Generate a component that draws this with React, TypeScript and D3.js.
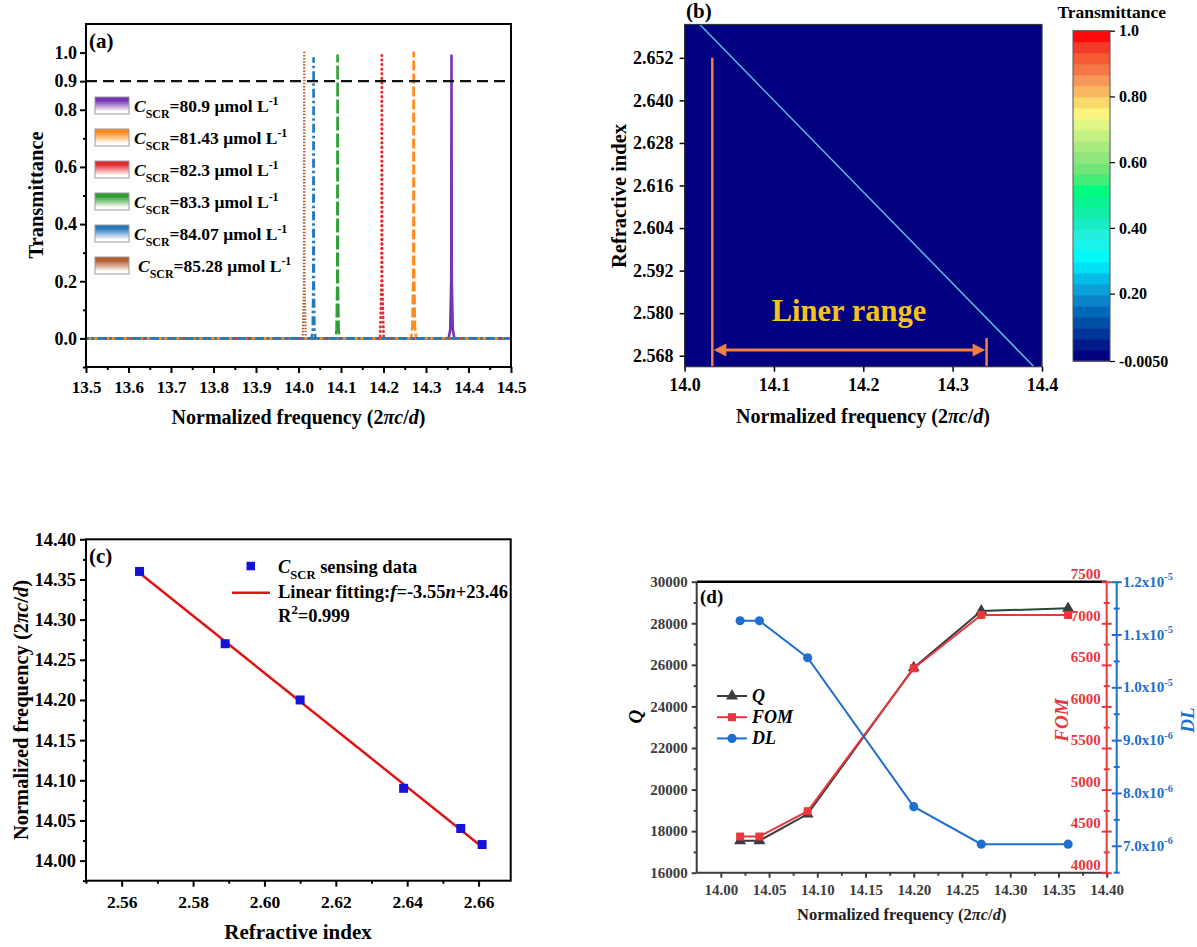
import React, { useEffect, useRef } from "react";
import * as d3 from "d3";

const W = 1197, H = 947;
const SERIF = "'Liberation Serif','Times New Roman',Times,serif";

// ---------- (a) transmission spectra ----------
const concLabels = ["80.9", "81.43", "82.3", "83.3", "84.07", "85.28"];
const specColors = ["#7434b4", "#ff8b1f", "#e32a2e", "#2fa033", "#2379bf", "#b35b2e"];
const specDash = ["none", "10,3", "2.2,2.8", "14,3", "9,3,2.5,3", "1.5,1.6"];
// [normalized frequency, transmittance]
const spec80_9 = [[13.5, 0], [14.353, 0], [14.357, 0.03], [14.3593, 0.2], [14.36, 0.99], [14.3607, 0.2], [14.363, 0.03], [14.367, 0], [14.5, 0]];
const spec81_43 = [[13.5, 0], [14.265, 0], [14.268, 0.04], [14.2703, 0.25], [14.271, 1.0], [14.2717, 0.25], [14.274, 0.04], [14.277, 0], [14.5, 0]];
const spec82_3 = [[13.5, 0], [14.192, 0], [14.1955, 0.2], [14.1962, 0.99], [14.1969, 0.2], [14.2004, 0], [14.5, 0]];
const spec83_3 = [[13.5, 0], [14.087, 0], [14.0895, 0.03], [14.0913, 0.2], [14.092, 0.99], [14.0927, 0.2], [14.0945, 0.03], [14.097, 0], [14.5, 0]];
const spec84_07 = [[13.5, 0], [14.031, 0], [14.0335, 0.03], [14.0348, 0.2], [14.0355, 0.98], [14.0362, 0.2], [14.0375, 0.03], [14.04, 0], [14.5, 0]];
const spec85_28 = [[13.5, 0], [14.0100, 0], [14.0128, 0.2], [14.0135, 1.0], [14.0142, 0.2], [14.017, 0], [14.5, 0]];
const spectra = [spec80_9, spec81_43, spec82_3, spec83_3, spec84_07, spec85_28];
const thresholdT = 0.9;
const xTicksA = [13.5, 13.6, 13.7, 13.8, 13.9, 14.0, 14.1, 14.2, 14.3, 14.4, 14.5];
const xMinorA = [13.55, 13.65, 13.75, 13.85, 13.95, 14.05, 14.15, 14.25, 14.35, 14.45];
const yTicksA = [0, 0.2, 0.4, 0.6, 0.8, 0.9, 1.0];
const yMinorA = [-0.1, 0.1, 0.3, 0.5, 0.7];

// ---------- (b) transmittance map ----------
const ridgeFreq = [14.017, 14.391];
const ridgeIndex = [2.6614, 2.5649];
const xTicksB = [14.0, 14.1, 14.2, 14.3, 14.4];
const yTicksB = [2.568, 2.58, 2.592, 2.604, 2.616, 2.628, 2.64, 2.652];
const rangeStartF = 14.031, rangeEndF = 14.338;
const cbTicks = [-0.005, 0.2, 0.4, 0.6, 0.8, 1.0];
const cbTickLabels = ["-0.0050", "0.20", "0.40", "0.60", "0.80", "1.0"];
const cbColors = ["#000080", "#001a8a", "#003499", "#004fa9", "#0068b8", "#0a84c8", "#0aa0d8", "#00bce6", "#00e0f4", "#00fafa",
  "#18f4ec", "#24eedc", "#18ecc4", "#10eea8", "#08f490", "#00fa80", "#40ee78", "#70e678", "#90e67c", "#a8ea80",
  "#c4f084", "#e0f684", "#f8f47c", "#fad86c", "#fab862", "#f89858", "#f67848", "#f45a34", "#f43a28", "#ff0a0a"];

// ---------- (c) sensing data ----------
const nC = [2.565, 2.589, 2.61, 2.639, 2.655, 2.661];
const fC = [14.36, 14.27, 14.2, 14.09, 14.04, 14.02];
const fitN = [2.565, 2.661];
const fitF = [14.358, 14.017];
const xTicksC = [2.56, 2.58, 2.6, 2.62, 2.64, 2.66];
const xMinorC = [2.55, 2.57, 2.59, 2.61, 2.63, 2.65];
const yTicksC = [14.0, 14.05, 14.1, 14.15, 14.2, 14.25, 14.3, 14.35, 14.4];
const yMinorC = [13.975, 14.025, 14.075, 14.125, 14.175, 14.225, 14.275, 14.325, 14.375];

// ---------- (d) Q / FOM / DL ----------
const freqD = [14.02, 14.04, 14.09, 14.2, 14.27, 14.36];
const qVals = [17540, 17540, 18820, 25860, 28590, 28720];
const fomVals = [4435, 4435, 4740, 6458, 7100, 7100];
const dlVals = [1.126e-5, 1.126e-5, 1.056e-5, 7.74e-6, 7.03e-6, 7.03e-6];
const xTicksD = [14.0, 14.05, 14.1, 14.15, 14.2, 14.25, 14.3, 14.35, 14.4];
const xMinorD = [14.025, 14.075, 14.125, 14.175, 14.225, 14.275, 14.325, 14.375];
const qTicks = [16000, 18000, 20000, 22000, 24000, 26000, 28000, 30000];
const qMinor = [17000, 19000, 21000, 23000, 25000, 27000, 29000];
const fomTicks = [4000, 4500, 5000, 5500, 6000, 6500, 7000, 7500];
const fomMinor = [4250, 4750, 5250, 5750, 6250, 6750, 7250];
const dlTicks = [7e-6, 8e-6, 9e-6, 1e-5, 1.1e-5, 1.2e-5];
const dlTickLabels = [["7.0x10", "-6"], ["8.0x10", "-6"], ["9.0x10", "-6"], ["1.0x10", "-5"], ["1.1x10", "-5"], ["1.2x10", "-5"]];
const dlMinor = [6.5e-6, 7.5e-6, 8.5e-6, 9.5e-6, 1.05e-5, 1.15e-5];

const freqTitle: any[] = [["Normalized frequency (2"], ["πc", "i"], ["/"], ["d", "i"], [")"]];
const cscr = (v: string): any[] => [["C", "i"], ["SCR", "sub"], ["=" + v + " μmol L"], ["-1", "sup"]];

function rich(t: any, parts: any[], size: number) {
  let shift = 0;
  parts.forEach(([s, k]: any) => {
    const span = t.append("tspan").text(s);
    let target = 0;
    if (k === "sub") target = size * 0.32;
    if (k === "sup") target = -size * 0.42;
    if (target - shift !== 0) span.attr("dy", target - shift);
    shift = target;
    if (k === "sub" || k === "sup") span.attr("font-size", size * 0.68);
    if (k === "i") span.attr("font-style", "italic");
  });
  return t;
}

function label(g: any, x: number, y: number, parts: any[], size: number, opts: any = {}) {
  const t = g.append("text")
    .attr("font-family", SERIF).attr("font-weight", "bold").attr("font-size", size)
    .attr("fill", opts.fill || "#000").attr("text-anchor", opts.anchor || "start");
  if (opts.rotate) t.attr("transform", `translate(${x},${y}) rotate(-90)`).attr("dy", "0.35em");
  else t.attr("x", x).attr("y", y);
  return rich(t, parts, size);
}

function styleAxis(sel: any, size: number, color: string, width = 2) {
  sel.attr("font-family", SERIF).attr("font-size", size).attr("font-weight", "bold");
  sel.select(".domain").remove();
  sel.selectAll("line").attr("stroke", color).attr("stroke-width", width);
  sel.selectAll("text").attr("fill", color);
  return sel;
}

function drawA(svg: any) {
  const g = svg.append("g");
  const x = d3.scaleLinear().domain([13.5, 14.5]).range([86, 511]);
  const y = d3.scaleLinear().domain([-0.1, 1.1]).range([367, 24]);
  const defs = svg.append("defs");
  specColors.forEach((c, i) => {
    const lg = defs.append("linearGradient").attr("id", "swA" + i).attr("x1", 0).attr("y1", 0).attr("x2", 0).attr("y2", 1);
    lg.append("stop").attr("offset", 0).attr("stop-color", c);
    lg.append("stop").attr("offset", 0.2).attr("stop-color", c);
    lg.append("stop").attr("offset", 0.85).attr("stop-color", "#fff");
  });
  defs.append("clipPath").attr("id", "clipA").append("rect").attr("x", 86).attr("y", 24).attr("width", 425).attr("height", 343);

  const line = d3.line().x((d: any) => x(d[0])).y((d: any) => y(d[1]));
  const plot = g.append("g").attr("clip-path", "url(#clipA)");
  const order = [0, 3, 5, 2, 1, 4];
  order.forEach((i) => {
    const pts = spectra[i];
    let pk = 0;
    pts.forEach((p, j) => { if (p[1] > pts[pk][1]) pk = j; });
    const path = plot.append("path").attr("d", line(pts as any)).attr("fill", "none")
      .attr("stroke", specColors[i]).attr("stroke-width", 2.6).attr("stroke-linejoin", "round");
    if (specDash[i] !== "none") {
      const tmp = plot.append("path").attr("d", line(pts.slice(0, pk + 1) as any));
      const l1 = (tmp.node() as any).getTotalLength();
      tmp.remove();
      const d0 = +specDash[i].split(",")[0];
      path.attr("stroke-dasharray", specDash[i]).attr("stroke-dashoffset", d0 / 2 - l1);
      if (i === 2) path.attr("stroke-linecap", "round").attr("stroke-dasharray", "0.4,4.2").attr("stroke-width", 2.8).attr("stroke-dashoffset", 0.2 - l1);
      if (i === 5) path.attr("stroke-width", 2.2);
    }
  });
  plot.append("line").attr("x1", x(13.5)).attr("x2", x(14.5)).attr("y1", y(thresholdT)).attr("y2", y(thresholdT))
    .attr("stroke", "#111").attr("stroke-width", 2.2).attr("stroke-dasharray", "11,6");

  g.append("rect").attr("x", 86).attr("y", 24).attr("width", 425).attr("height", 343)
    .attr("fill", "none").attr("stroke", "#000").attr("stroke-width", 2);
  styleAxis(g.append("g").attr("transform", "translate(0,367)")
    .call(d3.axisBottom(x).tickValues(xTicksA).tickSize(6).tickPadding(8).tickFormat(d3.format(".1f"))), 17, "#000");
  styleAxis(g.append("g").attr("transform", "translate(0,367)")
    .call(d3.axisBottom(x).tickValues(xMinorA).tickSize(3).tickFormat(() => "")), 16, "#000");
  styleAxis(g.append("g").attr("transform", "translate(86,0)")
    .call(d3.axisLeft(y).tickValues(yTicksA).tickSize(6).tickPadding(3).tickFormat(d3.format(".1f"))), 18, "#000");
  styleAxis(g.append("g").attr("transform", "translate(86,0)")
    .call(d3.axisLeft(y).tickValues(yMinorA).tickSize(3).tickFormat(() => "")), 16, "#000");

  concLabels.forEach((v, i) => {
    const yy = 97 + i * 32;
    g.append("rect").attr("x", 95).attr("y", yy).attr("width", 34).attr("height", 17)
      .attr("fill", `url(#swA${i})`).attr("stroke", "#9a9a9a").attr("stroke-width", 1);
    label(g, i === 5 ? 138 : 134, yy + 15, cscr(v), 17.5);
  });

  label(g, 89, 48, [["(a)"]], 21);
  label(g, 36, 195, [["Transmittance"]], 20.5, { anchor: "middle", rotate: true });
  label(g, 298.5, 424, freqTitle, 20, { anchor: "middle" });
}

function drawB(svg: any) {
  const g = svg.append("g");
  const x = d3.scaleLinear().domain([14.0, 14.4]).range([684.6, 1042]);
  const y = d3.scaleLinear().domain([2.5649, 2.6614]).range([366.7, 24.5]);
  g.append("rect").attr("x", x(14.0)).attr("y", y(2.6614)).attr("width", x(14.4) - x(14.0)).attr("height", y(2.5649) - y(2.6614))
    .attr("fill", cbColors[0]);
  const line = d3.line().x((d: any) => x(d[0])).y((d: any) => y(d[1]));
  g.append("path").attr("d", line(ridgeFreq.map((f, i) => [f, ridgeIndex[i]]) as any))
    .attr("stroke", "#58c0dc").attr("stroke-width", 1.5).attr("fill", "none");

  // liner range annotation
  const orange = "#f2813f";
  const a0 = x(rangeStartF), a1 = x(rangeEndF), ay = y(2.5696), bot = y(2.5649);
  g.append("line").attr("x1", a0).attr("x2", a0).attr("y1", y(2.652)).attr("y2", bot).attr("stroke", orange).attr("stroke-width", 2.5);
  g.append("line").attr("x1", a1).attr("x2", a1).attr("y1", y(2.573)).attr("y2", bot).attr("stroke", orange).attr("stroke-width", 2.5);
  g.append("line").attr("x1", a0 + 8).attr("x2", a1 - 8).attr("y1", ay).attr("y2", ay).attr("stroke", orange).attr("stroke-width", 3);
  g.append("path").attr("d", `M${a0 + 1.5},${ay} L${a0 + 14},${ay - 6.5} L${a0 + 14},${ay + 6.5} Z`).attr("fill", orange);
  g.append("path").attr("d", `M${a1 - 1.5},${ay} L${a1 - 14},${ay - 6.5} L${a1 - 14},${ay + 6.5} Z`).attr("fill", orange);
  label(g, x(14.184), 321, [["Liner range"]], 30.5, { anchor: "middle", fill: "#f6c21c" });

  g.append("rect").attr("x", x(14.0)).attr("y", y(2.6614)).attr("width", x(14.4) - x(14.0)).attr("height", y(2.5649) - y(2.6614))
    .attr("fill", "none").attr("stroke", "#333").attr("stroke-width", 1.2);
  styleAxis(g.append("g").attr("transform", `translate(0,${y(2.5649)})`)
    .call(d3.axisBottom(x).tickValues(xTicksB).tickSize(5).tickPadding(7).tickFormat(d3.format(".1f"))), 18, "#000", 1.5);
  styleAxis(g.append("g").attr("transform", `translate(${x(14.0)},0)`)
    .call(d3.axisLeft(y).tickValues(yTicksB).tickSize(5).tickPadding(6).tickFormat(d3.format(".3f"))), 18, "#000", 1.5);

  // colorbar
  const cb = d3.scaleLinear().domain([-0.005, 1.0]).range([361, 30.7]);
  const step = (1.0 + 0.005) / cbColors.length;
  cbColors.forEach((c, i) => {
    const lo = -0.005 + i * step, hi = lo + step;
    g.append("rect").attr("x", 1073).attr("width", 37).attr("y", cb(hi)).attr("height", cb(lo) - cb(hi) + 0.6).attr("fill", c);
  });
  g.append("rect").attr("x", 1073).attr("width", 37).attr("y", cb(1.0)).attr("height", cb(-0.005) - cb(1.0))
    .attr("fill", "none").attr("stroke", "#555").attr("stroke-width", 1);
  styleAxis(g.append("g").attr("transform", "translate(1110,0)")
    .call(d3.axisRight(cb).tickValues(cbTicks).tickSize(5).tickPadding(4).tickFormat((d: any, i: number) => cbTickLabels[i])), 16, "#000", 1.2);
  label(g, 1111.7, 17.5, [["Transmittance"]], 17.5, { anchor: "middle" });

  label(g, 686, 18, [["(b)"]], 21);
  label(g, 619, 196, [["Refractive index"]], 20.5, { anchor: "middle", rotate: true });
  label(g, 863, 423, freqTitle, 20, { anchor: "middle" });
}

function drawC(svg: any) {
  const g = svg.append("g");
  const x = d3.scaleLinear().domain([2.55, 2.669]).range([86, 510.7]);
  const y = d3.scaleLinear().domain([13.975, 14.4]).range([880.7, 539.3]);
  const line = d3.line().x((d: any) => x(d[0])).y((d: any) => y(d[1]));
  g.append("path").attr("d", line(fitN.map((n, i) => [n, fitF[i]]) as any)).attr("stroke", "#e01414").attr("stroke-width", 2.5).attr("fill", "none");
  nC.forEach((n, i) => {
    g.append("rect").attr("x", x(n) - 4.5).attr("y", y(fC[i]) - 4.5).attr("width", 9).attr("height", 9).attr("fill", "#1414d8");
  });
  g.append("rect").attr("x", 86).attr("y", 539.3).attr("width", 424.7).attr("height", 341.4)
    .attr("fill", "none").attr("stroke", "#000").attr("stroke-width", 2);
  styleAxis(g.append("g").attr("transform", "translate(0,880.7)")
    .call(d3.axisBottom(x).tickValues(xTicksC).tickSize(6).tickPadding(9).tickFormat(d3.format(".2f"))), 17.5, "#000");
  styleAxis(g.append("g").attr("transform", "translate(0,880.7)")
    .call(d3.axisBottom(x).tickValues(xMinorC).tickSize(3).tickFormat(() => "")), 16, "#000");
  styleAxis(g.append("g").attr("transform", "translate(86,0)")
    .call(d3.axisLeft(y).tickValues(yTicksC).tickSize(6).tickPadding(4).tickFormat(d3.format(".2f"))), 18.5, "#000");
  styleAxis(g.append("g").attr("transform", "translate(86,0)")
    .call(d3.axisLeft(y).tickValues(yMinorC).tickSize(3).tickFormat(() => "")), 16, "#000");

  g.append("rect").attr("x", 246.5).attr("y", 561.8).attr("width", 8.5).attr("height", 8.5).attr("fill", "#1414d8");
  g.append("line").attr("x1", 232).attr("x2", 270).attr("y1", 592.7).attr("y2", 592.7).attr("stroke", "#e01414").attr("stroke-width", 2.5);
  label(g, 278, 573, [["C", "i"], ["SCR", "sub"], [" sensing data"]], 18.5);
  label(g, 278, 598, [["Linear fitting:"], ["f", "i"], ["=-3.55"], ["n", "i"], ["+23.46"]], 18.5);
  label(g, 278, 622, [["R"], ["2", "sup"], ["=0.999"]], 18.5);

  label(g, 89, 563, [["(c)"]], 21);
  label(g, 21, 710, freqTitle, 20.5, { anchor: "middle", rotate: true });
  label(g, 298, 939, [["Refractive index"]], 21, { anchor: "middle" });
}

function drawD(svg: any) {
  const g = svg.append("g");
  const x = d3.scaleLinear().domain([13.975, 14.4]).range([696.7, 1106.7]);
  const yQ = d3.scaleLinear().domain([16000, 30000]).range([872.7, 581.7]);
  const yF = d3.scaleLinear().domain([4000, 7500]).range([872.7, 581.7]);
  const yD = d3.scaleLinear().domain([6.49e-6, 1.2e-5]).range([872.7, 581.7]);
  const gray = "#3c3c3c", red = "#e8383d", blue = "#1f6fd0";

  const series = [
    { vals: qVals, y: yQ, color: gray, sym: d3.symbolTriangle, size: 62 },
    { vals: fomVals, y: yF, color: red, sym: d3.symbolSquare, size: 64 },
    { vals: dlVals, y: yD, color: blue, sym: d3.symbolCircle, size: 66 },
  ];
  series.forEach((s) => {
    const line = d3.line().x((d: any) => x(d[0])).y((d: any) => s.y(d[1]));
    g.append("path").attr("d", line(freqD.map((f, i) => [f, s.vals[i]]) as any)).attr("fill", "none")
      .attr("stroke", s.color).attr("stroke-width", 2);
    freqD.forEach((f, i) => {
      g.append("path").attr("d", d3.symbol().type(s.sym).size(s.size)())
        .attr("transform", `translate(${x(f)},${s.y(s.vals[i])})`).attr("fill", s.color);
    });
  });

  // axes
  g.append("line").attr("x1", 696.7).attr("x2", 1106.7).attr("y1", 581.7).attr("y2", 581.7).attr("stroke", "#000").attr("stroke-width", 2.5);
  g.append("line").attr("x1", 696.7).attr("x2", 696.7).attr("y1", 581.7).attr("y2", 872.7).attr("stroke", gray).attr("stroke-width", 2);
  g.append("line").attr("x1", 696.7).attr("x2", 1106.7).attr("y1", 872.7).attr("y2", 872.7).attr("stroke", gray).attr("stroke-width", 2);
  g.append("line").attr("x1", 1106.7).attr("x2", 1106.7).attr("y1", 581.7).attr("y2", 872.7).attr("stroke", red).attr("stroke-width", 2);
  g.append("line").attr("x1", 1116.7).attr("x2", 1116.7).attr("y1", 581.7).attr("y2", 872.7).attr("stroke", blue).attr("stroke-width", 2);

  styleAxis(g.append("g").attr("transform", "translate(696.7,0)")
    .call(d3.axisLeft(yQ).tickValues(qTicks).tickSize(5).tickPadding(4).tickFormat(d3.format("d"))), 15, gray);
  styleAxis(g.append("g").attr("transform", "translate(696.7,0)")
    .call(d3.axisLeft(yQ).tickValues(qMinor).tickSize(3).tickFormat(() => "")), 15, gray);
  styleAxis(g.append("g").attr("transform", "translate(0,872.7)")
    .call(d3.axisBottom(x).tickValues(xTicksD).tickSize(5).tickPadding(7).tickFormat(d3.format(".2f"))), 15, gray);
  styleAxis(g.append("g").attr("transform", "translate(0,872.7)")
    .call(d3.axisBottom(x).tickValues(xMinorD).tickSize(3).tickFormat(() => "")), 15, gray);

  const fAx = styleAxis(g.append("g").attr("transform", "translate(1106.7,0)")
    .call(d3.axisLeft(yF).tickValues(fomTicks).tickSize(5).tickPadding(1).tickFormat(d3.format("d"))), 15, red);
  fAx.selectAll("line").attr("x1", 5);
  fAx.selectAll("text").attr("y", -8);
  const fMin = styleAxis(g.append("g").attr("transform", "translate(1106.7,0)")
    .call(d3.axisLeft(yF).tickValues(fomMinor).tickSize(3).tickFormat(() => "")), 15, red);
  fMin.selectAll("line").attr("x1", 3);

  const dAx = styleAxis(g.append("g").attr("transform", "translate(1116.7,0)")
    .call(d3.axisRight(yD).tickValues(dlTicks).tickSize(5).tickFormat(() => "")), 15, blue);
  dAx.selectAll("line").attr("x1", -5);
  const dMin = styleAxis(g.append("g").attr("transform", "translate(1116.7,0)")
    .call(d3.axisRight(yD).tickValues(dlMinor).tickSize(3).tickFormat(() => "")), 15, blue);
  dMin.selectAll("line").attr("x1", -3);
  dlTicks.forEach((v, i) => {
    label(g, 1123, yD(v) + 5, [[dlTickLabels[i][0]], [dlTickLabels[i][1], "sup"]], 15, { fill: blue });
  });

  // legend
  series.forEach((s, i) => {
    const yy = 696 + i * 21.2;
    g.append("line").attr("x1", 717).attr("x2", 747).attr("y1", yy).attr("y2", yy).attr("stroke", s.color).attr("stroke-width", 2);
    g.append("path").attr("d", d3.symbol().type(s.sym).size(s.size)()).attr("transform", `translate(732,${yy})`).attr("fill", s.color);
    label(g, 752, yy + 6, [[["Q", "FOM", "DL"][i], "i"]], 18);
  });

  label(g, 700, 603, [["(d)"]], 19);
  label(g, 635, 716.7, [["Q", "i"]], 19, { anchor: "middle", rotate: true });
  label(g, 1061.7, 720, [["FOM", "i"]], 19, { anchor: "middle", rotate: true, fill: red });
  label(g, 1187.7, 720, [["DL", "i"]], 19, { anchor: "middle", rotate: true, fill: blue });
  label(g, 901.7, 920, freqTitle, 16.5, { anchor: "middle", fill: "#222" });
}

export default function App() {
  const ref = useRef<SVGSVGElement>(null);
  useEffect(() => {
    const svg = d3.select(ref.current);
    svg.selectAll("*").remove();
    drawA(svg);
    drawB(svg);
    drawC(svg);
    drawD(svg);
  }, []);
  return (
    <div>
      <style>{"body{margin:0}"}</style>
      <svg ref={ref} width={W} height={H} style={{ display: "block", background: "#fff" }} />
    </div>
  );
}
